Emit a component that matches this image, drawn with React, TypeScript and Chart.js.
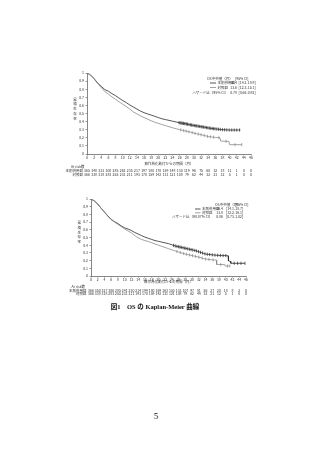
import React, { useEffect, useRef } from "react";
import { Chart, registerables } from "chart.js";

Chart.register(...registerables);

// ---------- data ----------
const riskTimes = [0, 2, 4, 6, 8, 10, 12, 14, 16, 18, 20, 22, 24, 26, 28, 30, 32, 34, 36, 38, 40, 42, 44, 46];
const treatName = "本剤併用群";
const ctrlName = "対照群";

// Figure (upper panel)
const topTreatTime = [0, 1, 2, 3, 4, 5, 6, 7, 8, 9, 10, 11, 12, 13, 14, 15, 16, 17, 18, 19, 20, 21, 22, 23, 24, 25, 26, 27, 28, 29, 30, 31, 32, 33, 34, 35, 36, 37, 38, 39, 40, 41, 42, 43];
const topTreatSurv = [1.0, 0.975, 0.93, 0.875, 0.835, 0.795, 0.775, 0.745, 0.72, 0.69, 0.66, 0.635, 0.605, 0.58, 0.555, 0.53, 0.51, 0.495, 0.48, 0.465, 0.45, 0.435, 0.425, 0.415, 0.405, 0.395, 0.385, 0.378, 0.37, 0.36, 0.352, 0.345, 0.337, 0.33, 0.322, 0.315, 0.31, 0.305, 0.3, 0.298, 0.296, 0.296, 0.296, 0.296];
const topCtrlTime = [0, 1, 2, 3, 4, 5, 6, 7, 8, 9, 10, 11, 12, 13, 14, 15, 16, 17, 18, 19, 20, 21, 22, 23, 24, 25, 26, 27, 28, 29, 30, 31, 32, 33, 34, 35, 36, 37.3, 37.5, 39.8, 40, 43.4];
const topCtrlSurv = [1.0, 0.975, 0.925, 0.87, 0.82, 0.77, 0.74, 0.705, 0.675, 0.645, 0.615, 0.585, 0.555, 0.52, 0.495, 0.47, 0.45, 0.43, 0.41, 0.393, 0.378, 0.364, 0.35, 0.337, 0.324, 0.312, 0.3, 0.29, 0.28, 0.27, 0.258, 0.248, 0.238, 0.228, 0.215, 0.21, 0.205, 0.2, 0.16, 0.155, 0.115, 0.115];
const topTreatCens = [25.8, 26.1, 26.4, 26.7, 27.0, 27.2, 27.5, 27.9, 28.2, 28.6, 29.0, 29.3, 29.7, 30.1, 30.5, 30.8, 31.2, 31.6, 32.0, 32.3, 32.7, 33.1, 33.5, 33.9, 34.3, 34.7, 35.1, 35.5, 35.9, 36.4, 36.9, 37.4, 38.0, 38.6, 39.2, 39.9, 40.6, 41.3, 42.0, 42.8];
const topCtrlCens = [26.3, 27.1, 27.8, 28.6, 29.5, 30.3, 31.2, 32.0, 32.9, 33.8, 34.6, 35.5, 37.0, 39.0, 41.5, 43.4];
const topRiskTreat = [365, 348, 333, 308, 285, 262, 235, 217, 197, 180, 170, 159, 148, 130, 119, 96, 75, 60, 32, 18, 11, 1, 0, 0];
const topRiskCtrl = [366, 338, 318, 283, 255, 231, 211, 193, 170, 159, 142, 131, 121, 108, 79, 62, 44, 32, 21, 12, 5, 1, 0, 0];
const topMedTreat = ["16.4", "[14.2-18.9]"];
const topMedCtrl = ["13.6", "[12.3-15.1]"];
const topHR = ["ハザード比（95% CI）", "0.78", "[0.66-0.92]"];

// Figure (lower panel)
const botTreatTime = [0, 1, 2, 3, 4, 5, 6, 7, 8, 9, 10, 11, 12, 13, 14, 15, 16, 17, 18, 19, 20, 21, 22, 23, 24, 25, 26, 27, 28, 29, 30, 31, 32, 33, 34, 35, 36, 37, 38, 39, 40, 40.7, 40.8, 41.4, 41.5, 45.7];
const botTreatSurv = [1.0, 0.975, 0.935, 0.88, 0.83, 0.78, 0.735, 0.705, 0.68, 0.65, 0.625, 0.61, 0.59, 0.565, 0.545, 0.525, 0.505, 0.49, 0.475, 0.46, 0.45, 0.44, 0.43, 0.42, 0.405, 0.39, 0.38, 0.37, 0.36, 0.35, 0.34, 0.33, 0.315, 0.3, 0.285, 0.28, 0.275, 0.27, 0.268, 0.265, 0.265, 0.262, 0.195, 0.19, 0.165, 0.165];
const botCtrlTime = [0, 1, 2, 3, 4, 5, 6, 7, 8, 9, 10, 11, 12, 13, 14, 15, 16, 17, 18, 19, 20, 21, 22, 23, 24, 25, 26, 27, 28, 29, 30, 31, 32, 33, 34, 35, 36, 37.2, 37.3, 39.7, 39.8, 41.2];
const botCtrlSurv = [1.0, 0.975, 0.935, 0.88, 0.83, 0.775, 0.73, 0.7, 0.67, 0.64, 0.61, 0.585, 0.56, 0.525, 0.495, 0.475, 0.46, 0.448, 0.432, 0.415, 0.4, 0.385, 0.37, 0.355, 0.34, 0.325, 0.312, 0.298, 0.285, 0.275, 0.265, 0.255, 0.245, 0.232, 0.22, 0.215, 0.21, 0.208, 0.15, 0.148, 0.13, 0.13];
const botTreatCens = [24.5, 25.0, 25.5, 26.0, 26.4, 26.8, 27.3, 27.8, 28.2, 28.7, 29.2, 29.7, 30.2, 30.8, 31.3, 31.9, 32.5, 33.1, 33.8, 34.5, 35.2, 36.0, 36.8, 37.6, 38.4, 39.2, 40.0, 42.5, 43.5, 44.5, 45.7];
const botCtrlCens = [25.5, 26.5, 27.5, 28.3, 29.2, 30.1, 31.0, 32.0, 33.0, 34.0, 35.0, 36.2, 38.5, 40.5, 41.2];
const botRiskTreat = [366, 350, 327, 306, 285, 241, 230, 214, 199, 180, 169, 163, 153, 133, 107, 97, 81, 56, 27, 20, 18, 8, 2, 0];
const botRiskCtrl = [366, 338, 318, 283, 255, 231, 211, 193, 170, 159, 142, 131, 121, 108, 79, 62, 44, 32, 21, 12, 5, 1, 0, 0];
const botMedTreat = ["16.4", "[14.1-18.7]"];
const botMedCtrl = ["13.8", "[12.2-16.1]"];
const botHR = ["ハザード比（98.87% CI）", "0.86", "[0.73-1.02]"];

const legendHeader = ["OS中央値（月）", "[95% CI]"];
const xTitle = "無作為化割付からの期間（月）";
const yTitleChars = ["累", "積", "生", "存", "率"];
const riskTitle = "At risk数";

// ---------- helpers ----------
const FONT = '"Noto Sans CJK JP", "Liberation Sans", sans-serif';
const TREAT_COLOR = "#2a2a2a";
const CTRL_COLOR = "#8a8a8a";

function pts(t: number[], s: number[]) {
  return t.map((x, i) => ({ x, y: s[i] }));
}
function survAt(t: number[], s: number[], x: number) {
  if (x <= t[0]) return s[0];
  for (let i = 1; i < t.length; i++) {
    if (x <= t[i]) {
      const f = (x - t[i - 1]) / (t[i] - t[i - 1]);
      return s[i - 1] + f * (s[i] - s[i - 1]);
    }
  }
  return s[s.length - 1];
}

type Lay = {
  left: number; top: number; w: number; h: number;
  padTop: number; padRight: number; yW: number; xH: number;
  xTitleY: number; riskTitleY: number; riskTitleX: number; row1Y: number; row2Y: number; rowLabelRight: number;
  yTitleX: number; yTitleY0: number; yTitleStep: number;
  hdrY: number; hdrLeft: number; hdrCiLeft: number; rowsY: number[];
  lineX0: number; lineX1: number; labelX: number; valRight: number; ciLeft: number; hrRight: number;
};

type KMProps = {
  lay: Lay;
  treatT: number[]; treatS: number[]; ctrlT: number[]; ctrlS: number[];
  treatC: number[]; ctrlC: number[];
  riskTreat: number[]; riskCtrl: number[];
  medTreat: string[]; medCtrl: string[]; hr: string[];
};

function KMChart(p: KMProps) {
  const ref = useRef<HTMLCanvasElement | null>(null);
  useEffect(() => {
    const L = p.lay;
    const textPlugin = {
      id: "kmText",
      afterDraw(chart: any) {
        const ctx = chart.ctx as CanvasRenderingContext2D;
        const xs = chart.scales.x;
        ctx.save();
        ctx.fillStyle = "#333";
        ctx.textBaseline = "middle";
        ctx.font = `3.5px ${FONT}`;
        ctx.textAlign = "center";
        ctx.fillText(xTitle, (chart.chartArea.left + chart.chartArea.right) / 2, L.xTitleY);
        yTitleChars.forEach((c, i) => ctx.fillText(c, L.yTitleX, L.yTitleY0 + i * L.yTitleStep));
        ctx.textAlign = "left";
        ctx.fillText(riskTitle, L.riskTitleX, L.riskTitleY);
        ctx.textAlign = "right";
        ctx.fillText(treatName, L.rowLabelRight, L.row1Y);
        ctx.fillText(ctrlName, L.rowLabelRight, L.row2Y);
        ctx.textAlign = "center";
        riskTimes.forEach((t, i) => {
          const px = xs.getPixelForValue(t);
          ctx.fillText(String(p.riskTreat[i]), px, L.row1Y);
          ctx.fillText(String(p.riskCtrl[i]), px, L.row2Y);
        });
        ctx.textAlign = "left";
        ctx.fillText(legendHeader[0], L.hdrLeft, L.hdrY);
        ctx.fillText(legendHeader[1], L.hdrCiLeft, L.hdrY);
        const rows = [
          { name: treatName, med: p.medTreat, color: TREAT_COLOR },
          { name: ctrlName, med: p.medCtrl, color: CTRL_COLOR },
        ];
        rows.forEach((r, i) => {
          const y = L.rowsY[i];
          ctx.strokeStyle = r.color;
          ctx.lineWidth = 0.8;
          ctx.beginPath();
          ctx.moveTo(L.lineX0, y);
          ctx.lineTo(L.lineX1, y);
          ctx.stroke();
          ctx.textAlign = "left";
          ctx.fillText(r.name, L.labelX, y);
          ctx.textAlign = "right";
          ctx.fillText(r.med[0], L.valRight, y);
          ctx.textAlign = "left";
          ctx.fillText(r.med[1], L.ciLeft, y);
        });
        const y3 = L.rowsY[2];
        ctx.textAlign = "right";
        ctx.fillText(p.hr[0], L.hrRight, y3);
        ctx.fillText(p.hr[1], L.valRight, y3);
        ctx.textAlign = "left";
        ctx.fillText(p.hr[2], L.ciLeft, y3);
        ctx.restore();
      },
    };

    const censor = (times: number[], t: number[], s: number[], color: string) => ({
      type: "scatter" as const,
      data: times.map((x) => ({ x, y: survAt(t, s, x) })),
      showLine: false,
      pointStyle: "line",
      rotation: 90,
      pointRadius: 1.6,
      pointBorderWidth: 0.7,
      borderColor: color,
      backgroundColor: color,
    });

    const lineDs = (t: number[], s: number[], color: string) => ({
      type: "line",
      data: pts(t, s),
      showLine: true,
      borderColor: color,
      borderWidth: 0.8,
      pointRadius: 0,
      tension: 0,
      fill: false,
    });

    const chart = new Chart(ref.current as HTMLCanvasElement, {
      type: "scatter",
      data: {
        datasets: [
          lineDs(p.ctrlT, p.ctrlS, CTRL_COLOR) as any,
          lineDs(p.treatT, p.treatS, TREAT_COLOR) as any,
          censor(p.ctrlC, p.ctrlT, p.ctrlS, CTRL_COLOR) as any,
          censor(p.treatC, p.treatT, p.treatS, TREAT_COLOR) as any,
        ],
      },
      options: {
        responsive: false,
        animation: false,
        devicePixelRatio: 1,
        layout: { padding: { top: L.padTop, right: L.padRight, left: 0, bottom: 0 } },
        plugins: { legend: { display: false }, tooltip: { enabled: false } },
        scales: {
          x: {
            type: "linear",
            min: 0,
            max: 46,
            afterFit: (s: any) => { s.height = L.xH; },
            ticks: {
              stepSize: 2,
              autoSkip: false,
              maxRotation: 0,
              padding: 0.5,
              color: "#333",
              font: { size: 3.5, family: FONT },
            },
            grid: { drawOnChartArea: false, tickLength: 1.5, color: "#555", lineWidth: 0.6 },
            border: { color: "#555", width: 0.7 },
          },
          y: {
            type: "linear",
            min: 0,
            max: 1,
            afterFit: (s: any) => { s.width = L.yW; },
            ticks: {
              stepSize: 0.1,
              padding: 1.5,
              color: "#333",
              font: { size: 3.5, family: FONT },
              callback: (v: any) => String(Math.round(Number(v) * 10) / 10),
            },
            grid: { drawOnChartArea: false, tickLength: 1.5, color: "#555", lineWidth: 0.6 },
            border: { color: "#555", width: 0.7 },
          },
        },
      } as any,
      plugins: [textPlugin],
    });
    return () => chart.destroy();
  }, []);
  const L = p.lay;
  return (
    <canvas
      ref={ref}
      width={L.w}
      height={L.h}
      style={{ position: "absolute", left: L.left, top: L.top, width: L.w, height: L.h }}
    />
  );
}

const topLay: Lay = {
  left: 40, top: 60, w: 230, h: 125,
  padTop: 13, padRight: 19, yW: 47, xH: 31,
  xTitleY: 103.3, riskTitleY: 107, riskTitleX: 31, row1Y: 111, row2Y: 114.5, rowLabelRight: 43,
  yTitleX: 35, yTitleY0: 39.3, yTitleStep: 4.8,
  hdrY: 18.3, hdrLeft: 167, hdrCiLeft: 195, rowsY: [23, 27.5, 32.2],
  lineX0: 170, lineX1: 176, labelX: 177.5, valRight: 197, ciLeft: 198.5, hrRight: 188,
};

const botLay: Lay = {
  left: 40, top: 188, w: 230, h: 125,
  padTop: 11, padRight: 24, yW: 51, xH: 37,
  xTitleY: 94, riskTitleY: 98.7, riskTitleX: 31.5, row1Y: 102.2, row2Y: 105.8, rowLabelRight: 46.5,
  yTitleX: 39.3, yTitleY0: 35, yTitleStep: 4.7,
  hdrY: 17, hdrLeft: 175, hdrCiLeft: 195, rowsY: [21, 24.8, 28.7],
  lineX0: 155, lineX1: 160.5, labelX: 162, valRight: 183, ciLeft: 186, hrRight: 172.5,
};

export default function App() {
  return (
    <div
      style={{
        position: "absolute",
        left: 0,
        top: 0,
        width: 320,
        height: 453,
        background: "#fff",
        overflow: "hidden",
      }}
    >
      <KMChart
        lay={topLay}
        treatT={topTreatTime} treatS={topTreatSurv}
        ctrlT={topCtrlTime} ctrlS={topCtrlSurv}
        treatC={topTreatCens} ctrlC={topCtrlCens}
        riskTreat={topRiskTreat} riskCtrl={topRiskCtrl}
        medTreat={topMedTreat} medCtrl={topMedCtrl} hr={topHR}
      />
      <KMChart
        lay={botLay}
        treatT={botTreatTime} treatS={botTreatSurv}
        ctrlT={botCtrlTime} ctrlS={botCtrlSurv}
        treatC={botTreatCens} ctrlC={botCtrlCens}
        riskTreat={botRiskTreat} riskCtrl={botRiskCtrl}
        medTreat={botMedTreat} medCtrl={botMedCtrl} hr={botHR}
      />
      <div
        style={{
          position: "absolute",
          left: 0,
          width: 310,
          top: 303,
          textAlign: "center",
          fontFamily: '"Liberation Serif", "Noto Sans CJK JP", serif',
          fontWeight: "bold",
          fontSize: 6.5,
          lineHeight: "8px",
          color: "#111",
          whiteSpace: "pre",
        }}
      >
        {"図1　OS の Kaplan-Meier 曲線"}
      </div>
      <div
        style={{
          position: "absolute",
          left: 0,
          width: 312,
          top: 411,
          textAlign: "center",
          fontFamily: '"Liberation Serif", serif',
          fontSize: 9,
          lineHeight: "11px",
          color: "#111",
        }}
      >
        5
      </div>
    </div>
  );
}
